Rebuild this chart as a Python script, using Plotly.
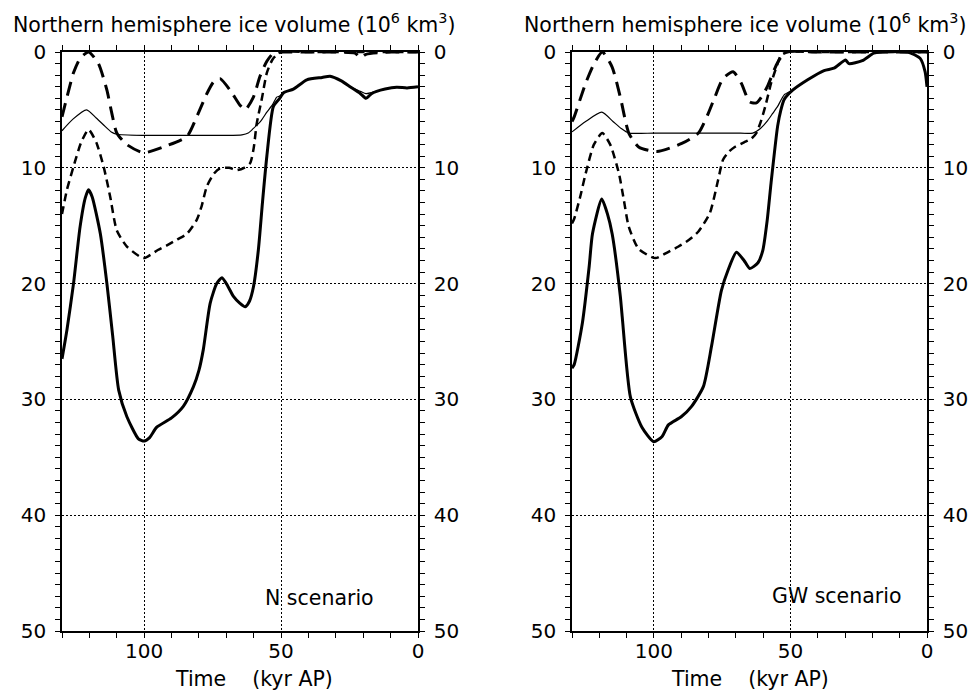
import plotly.graph_objects as go

# ---------------- data (time in kyr AP, ice volume in 10^6 km^3) ----------------
# N scenario (left panel)
n_long_t = [130, 128.2, 125.8, 123.4, 120.3, 116.7, 113.6, 111.8, 110, 106.3, 100.2, 93, 84.4, 80.8, 77.1, 74.7, 72.3, 68.6, 65, 63.1, 60.1, 57.7, 55.2, 52.8, 50, 40, 30, 23, 21, 19, 10, 0]
n_long_v = [5.6, 3.9, 1.8, 0.55, 0.0, 1.0, 3.3, 5.3, 7.0, 8.0, 8.7, 8.2, 7.3, 5.6, 3.6, 2.6, 2.3, 3.3, 4.6, 5.0, 3.9, 2.1, 0.8, 0.1, 0, 0, 0, 0.1, 0.5, 0.2, 0, 0]

n_short_t = [130, 128.2, 125.8, 123, 120.3, 117.5, 114.8, 112.4, 110, 106.3, 100.2, 95, 91.7, 88, 84.4, 80.8, 79, 77.1, 74.5, 72.3, 69, 66.2, 63.5, 61.3, 60, 58.9, 57, 55.2, 53, 50, 40, 20, 0]
n_short_v = [14.0, 11.9, 9.9, 7.8, 6.7, 7.8, 9.9, 12.5, 15.4, 16.8, 17.8, 17.1, 16.7, 16.2, 15.7, 14.5, 13.3, 11.6, 10.5, 10.05, 10.0, 10.2, 10.0, 9.6, 8.3, 6.2, 4.0, 1.8, 0.6, 0, 0, 0, 0]

n_thin_t = [130, 126, 121, 117.5, 114.8, 112, 110, 100, 90, 80, 70, 64.3, 62, 60.1, 57.5, 55.2, 53, 51.6, 50.5, 49, 45.5, 40.6, 35, 32.1, 28, 24.8, 21, 19, 17, 15.1, 12, 7.8, 4, 0]
n_thin_v = [6.8, 5.8, 5.0, 5.7, 6.3, 6.9, 7.1, 7.2, 7.2, 7.2, 7.2, 7.15, 7.0, 6.6, 6.0, 5.2, 4.5, 3.9, 3.8, 3.5, 3.2, 2.4, 2.2, 2.1, 2.5, 3.0, 3.4, 3.6, 3.5, 3.4, 3.2, 3.05, 3.1, 3.0]

n_solid_t = [130, 128.2, 125.8, 123.4, 121.5, 120.3, 119, 116, 113.6, 111.5, 109.3, 106.3, 102.1, 100, 98, 95.4, 90, 85.7, 82, 80, 78.4, 75.9, 73.5, 71.6, 69.5, 67.4, 65, 63.1, 61.5, 60.1, 58.3, 56.8, 55.2, 52.8, 50.5, 49, 45.5, 40.6, 35, 32.1, 28, 24.8, 21, 19, 17, 15.1, 12, 7.8, 4, 0]
n_solid_v = [26.5, 24.0, 20.0, 15.1, 12.6, 11.9, 12.5, 15.7, 20.0, 24.5, 29.2, 31.5, 33.4, 33.6, 33.3, 32.4, 31.6, 30.6, 28.9, 27.5, 25.7, 21.7, 20.0, 19.5, 20.2, 21.1, 21.7, 22.0, 21.5, 20.3, 17.1, 13.0, 9.0, 4.7, 4.0, 3.5, 3.2, 2.4, 2.2, 2.1, 2.5, 3.0, 3.6, 4.0, 3.6, 3.4, 3.2, 3.05, 3.1, 3.0]

# GW scenario (right panel)
g_long_t = [130, 129.2, 125, 121.9, 118.9, 115.3, 112.3, 109.2, 105.6, 98.9, 89.8, 83.7, 80.1, 77.7, 74.7, 71, 68, 65, 62.5, 60.1, 58.3, 54.7, 51.6, 40, 20, 0]
g_long_v = [6.0, 5.6, 2.7, 1.0, 0.0, 1.3, 3.9, 7.0, 8.2, 8.6, 7.9, 7.0, 5.3, 3.9, 2.3, 1.7, 2.7, 4.3, 4.4, 3.7, 2.9, 0.9, 0, 0, 0, 0]

g_short_t = [130, 129.2, 127, 125, 122, 118.9, 116, 112.8, 111, 109.2, 105.6, 99.5, 95, 91, 87, 83.7, 79.5, 76.5, 74.7, 72.5, 70.4, 67, 64.4, 62.5, 60.7, 59, 57.1, 55, 53.5, 51, 40, 20, 0]
g_short_v = [14.8, 14.4, 12.5, 10.5, 8.0, 7.0, 8.0, 10.5, 12.8, 15.1, 17.0, 17.8, 17.3, 16.8, 16.2, 15.5, 13.9, 11.05, 9.3, 8.6, 8.2, 7.8, 7.5, 7.0, 5.9, 4.5, 2.7, 1.2, 0.3, 0, 0, 0, 0]

g_thin_t = [130, 125, 119.1, 115, 112, 109.2, 100, 90, 80, 70, 63.8, 61, 58.3, 56.5, 54.7, 52.3, 49.2, 43.7, 37.7, 34.1, 29.8, 28.6, 23.7, 19.5, 17, 7, 2.5, 0.7, 0]
g_thin_v = [6.9, 6.0, 5.2, 6.0, 6.6, 7.0, 7.0, 7.0, 7.0, 7.0, 7.0, 6.6, 5.9, 5.3, 4.7, 3.7, 3.3, 2.4, 1.6, 1.4, 0.7, 1.0, 0.75, 0.1, 0, 0, 0.55, 1.7, 3.0]

g_solid_t = [130, 129.2, 126.2, 123.7, 122.5, 119.1, 117, 115.3, 112.3, 111.6, 108.6, 104.4, 100.1, 97, 94.7, 90, 86.2, 81.9, 78.9, 75.3, 72.8, 69.8, 67, 64.9, 61.9, 60.1, 58.5, 57.1, 54.7, 53.5, 52.3, 49.2, 43.7, 37.7, 34.1, 29.8, 28.6, 23.7, 19.5, 17, 7, 2.5, 0.7, 0]
g_solid_v = [27.3, 27.0, 23.4, 18.5, 15.7, 12.7, 14.0, 15.7, 21.1, 22.9, 29.8, 32.4, 33.65, 33.2, 32.2, 31.5, 30.6, 28.9, 25.4, 20.6, 18.8, 17.3, 18.0, 18.7, 18.2, 17.1, 14.5, 11.3, 6.4, 5.0, 4.1, 3.3, 2.4, 1.6, 1.4, 0.7, 1.0, 0.75, 0.1, 0, 0, 0.55, 1.7, 3.0]

title_text = "Northern hemisphere ice volume (10<sup>6</sup> km<sup>3</sup>)"
xlabel_text = "Time\u00a0\u00a0\u00a0\u00a0(kyr AP)"
scen_labels = ["N scenario", "GW scenario"]
y_ticks = [0, 10, 20, 30, 40, 50]
x_ticks = [100, 50, 0]

# ---------------- figure ----------------
W, H = 971, 697
FONT = "DejaVu Sans"
FS_TICK = 20
FS_TEXT = 20.5


def fx(px):
    return px / W


def fy(py):
    return 1 - py / H


fig = go.Figure()

styles = {
    "thin": dict(color="black", width=1.2),
    "short": dict(color="black", width=2.5, dash="8px,5px"),
    "long": dict(color="black", width=3, dash="14px,8px"),
    "solid": dict(color="black", width=3),
}

panels = [
    ("x", "y", [(n_thin_t, n_thin_v, "thin"), (n_short_t, n_short_v, "short"),
                (n_long_t, n_long_v, "long"), (n_solid_t, n_solid_v, "solid")]),
    ("x2", "y3", [(g_thin_t, g_thin_v, "thin"), (g_short_t, g_short_v, "short"),
                  (g_long_t, g_long_v, "long"), (g_solid_t, g_solid_v, "solid")]),
]
for xa, ya, series in panels:
    for t, v, st in series:
        fig.add_trace(go.Scatter(x=t, y=v, xaxis=xa, yaxis=ya, mode="lines",
                                 line=dict(shape="spline", smoothing=0.6, **styles[st]),
                                 showlegend=False, hoverinfo="skip"))

dom_x = [(62, 418), (572, 927)]
dom_y = [fy(631), fy(52)]

tickfont = dict(family=FONT, size=FS_TICK, color="black")

common_x = dict(range=[130, 0], tickvals=x_ticks, ticks="outside", ticklen=5, tickwidth=1.2,
                tickcolor="black", showline=True, linecolor="black", linewidth=1.5,
                mirror="ticks", showgrid=True, gridcolor="black", gridwidth=1, griddash="2px,2px",
                zeroline=False, tickfont=tickfont, ticklabelstandoff=-4, automargin=False,
                minor=dict(dtick=10, tick0=0, ticks="outside", ticklen=5, tickcolor="black",
                           tickwidth=1.2, showgrid=False))
common_y = dict(range=[50, 0], tickvals=y_ticks, ticks="outside", ticklen=5, tickwidth=1.2,
                tickcolor="black", showline=True, linecolor="black", linewidth=1.5,
                zeroline=False, tickfont=tickfont, ticklabelstandoff=5, domain=dom_y,
                automargin=False,
                minor=dict(dtick=1, tick0=0, ticks="outside", ticklen=5, tickcolor="black",
                           tickwidth=1.2, showgrid=False))

fig.update_layout(
    width=W, height=H, margin=dict(l=0, r=0, t=0, b=0, pad=0, autoexpand=False),
    paper_bgcolor="white", plot_bgcolor="white",
    xaxis=dict(domain=[fx(dom_x[0][0]), fx(dom_x[0][1])], anchor="y", **common_x),
    xaxis2=dict(domain=[fx(dom_x[1][0]), fx(dom_x[1][1])], anchor="y3", **common_x),
    yaxis=dict(anchor="x", side="left", showgrid=True, gridcolor="black", gridwidth=1,
               griddash="2px,2px", **common_y),
    yaxis2=dict(anchor="x", overlaying="y", side="right", showgrid=False, **common_y),
    yaxis3=dict(anchor="x2", side="left", showgrid=True, gridcolor="black", gridwidth=1,
                griddash="2px,2px", **common_y),
    yaxis4=dict(anchor="x2", overlaying="y3", side="right", showgrid=False, **common_y),
)

# dummy traces so that the overlaid right axes are drawn
fig.add_trace(go.Scatter(x=[None], y=[None], xaxis="x", yaxis="y2", showlegend=False))
fig.add_trace(go.Scatter(x=[None], y=[None], xaxis="x2", yaxis="y4", showlegend=False))

annot_font = dict(family=FONT, size=FS_TEXT, color="black")
annots = [
    dict(x=fx(11), y=fy(24), text=title_text, xanchor="left", yanchor="middle"),
    dict(x=fx(522), y=fy(24), text=title_text, xanchor="left", yanchor="middle"),
    dict(x=fx(254), y=fy(679), text=xlabel_text, xanchor="center", yanchor="middle"),
    dict(x=fx(750), y=fy(679), text=xlabel_text, xanchor="center", yanchor="middle"),
    dict(x=fx(263), y=fy(598), text=scen_labels[0], xanchor="left", yanchor="middle"),
    dict(x=fx(770), y=fy(596), text=scen_labels[1], xanchor="left", yanchor="middle"),
]
for a in annots:
    fig.add_annotation(xref="paper", yref="paper", showarrow=False, font=annot_font, **a)

fig.write_html("out.html")
